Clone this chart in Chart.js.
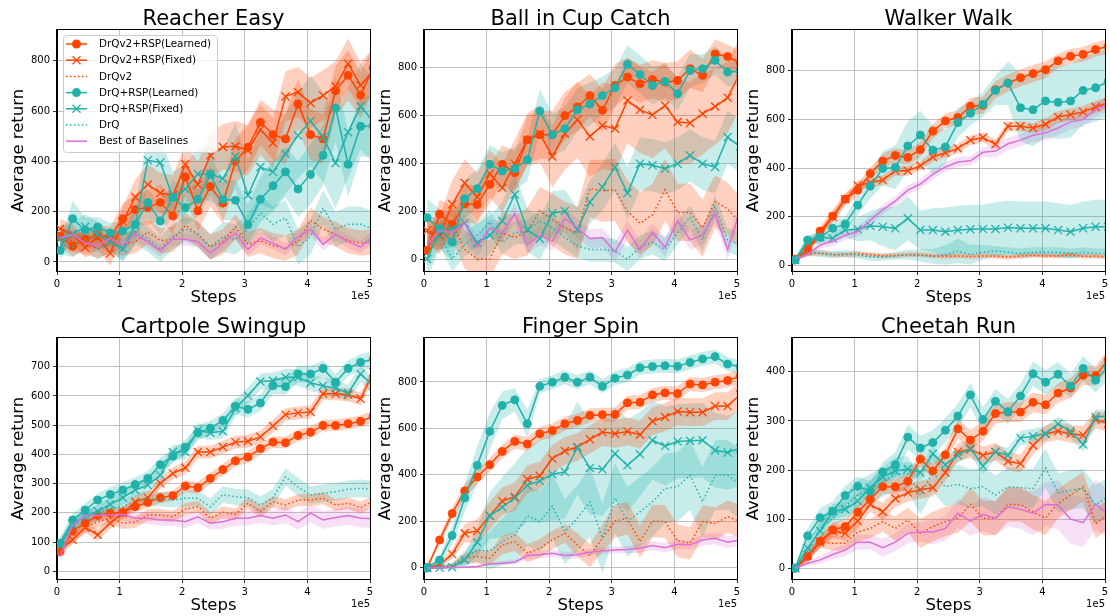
<!DOCTYPE html>
<html>
<head>
<meta charset="utf-8">
<title>RSP learning curves</title>
<script src="https://cdn.jsdelivr.net/npm/chart.js"></script>
<style>
  body { margin: 0; background: #FFF; }
  .wrap { position: relative; width: 1110px; height: 616px; overflow: hidden; background: #FFF; }
  .wrap canvas { position: absolute; }
</style>
</head>
<body>
<div class="wrap">
  <canvas id="c0" width="378" height="309" style="left:0px;top:0px"></canvas>
  <canvas id="c1" width="378" height="309" style="left:367px;top:0px"></canvas>
  <canvas id="c2" width="378" height="309" style="left:735px;top:0px"></canvas>
  <canvas id="c3" width="378" height="309" style="left:0px;top:308px"></canvas>
  <canvas id="c4" width="378" height="309" style="left:367px;top:308px"></canvas>
  <canvas id="c5" width="378" height="309" style="left:735px;top:308px"></canvas>
</div>
<script>
// x positions of the evaluation points, in units of 1e5 steps
const steps = [0.05,0.25,0.45,0.65,0.85,1.05,1.25,1.45,1.65,1.85,2.05,2.25,2.45,2.65,2.85,3.05,3.25,3.45,3.65,3.85,4.05,4.25,4.45,4.65,4.85,5.05];
const xTicks = [0,1,2,3,4,5];

// Reacher Easy
const reacher_v2L = [102,62,90,105,100,172,208,216,237,183,338,203,300,234,400,456,555,506,489,628,506,489,681,742,664,770];
const reacher_v2F = [132,110,57,100,35,160,258,308,274,265,388,308,424,457,460,444,526,473,658,675,632,662,698,788,702,760];
const reacher_v2 = [110,80,70,55,75,70,80,120,85,90,145,110,60,80,140,70,85,65,55,80,165,130,110,85,75,80];
const reacher_L = [46,172,126,139,115,123,150,236,163,256,216,249,348,248,245,148,249,303,358,290,348,424,612,388,539,540];
const reacher_F = [90,110,140,110,80,53,145,404,395,258,290,350,350,331,420,265,377,358,430,503,560,497,393,516,618,560];
const reacher_drq = [70,60,90,50,80,45,120,90,50,100,130,110,60,100,90,130,195,150,175,60,100,215,130,150,150,130];
const reacher_best = [95,110,75,65,95,65,110,80,45,90,90,80,35,75,115,50,95,75,50,100,130,70,110,80,60,100];
const reacher_v2L_sd = [40,40,40,40,40,60,60,70,70,70,80,80,80,80,90,90,90,100,100,100,100,100,100,100,90,90];
const reacher_v2F_sd = [40,40,40,50,50,60,70,80,80,80,80,90,90,90,100,100,100,100,100,100,100,100,100,100,90,90];
const reacher_v2_sd = [40,40,40,40,40,45,45,50,50,50,50,50,50,50,50,50,50,50,50,50,50,50,50,50,50,50];
const reacher_L_sd = [40,70,50,40,40,40,50,60,60,70,70,70,80,80,80,80,90,100,100,110,120,120,130,130,120,120];
const reacher_F_sd = [50,50,50,50,40,50,80,100,100,100,100,100,110,120,130,140,150,150,160,170,180,180,180,180,170,170];
const reacher_drq_sd = [40,40,40,40,40,40,50,50,50,50,50,50,50,60,60,60,70,70,70,70,70,70,70,70,70,70];
const reacher_best_sd = [25,25,25,25,25,25,25,25,25,25,25,25,25,25,25,25,25,25,25,25,25,25,25,25,25,25];

// Ball in Cup Catch
const ball_v2L = [36,188,145,231,228,312,396,361,499,520,520,600,636,684,622,726,761,733,751,740,747,796,768,858,847,820];
const ball_v2F = [120,100,229,318,259,357,298,399,499,524,429,524,583,513,559,545,663,624,603,642,573,569,608,638,675,780];
const ball_v2 = [110,95,150,40,0,0,110,90,115,200,165,130,110,295,285,290,200,150,185,290,195,195,130,240,210,150];
const ball_L = [173,127,71,252,294,396,368,378,415,619,520,545,624,648,684,716,814,772,726,743,691,789,796,831,782,785];
const ball_F = [0,120,127,150,67,99,159,270,123,85,192,201,123,238,301,385,276,399,392,378,399,433,399,385,510,470];
const ball_drq = [20,100,0,60,100,155,70,110,115,160,130,90,55,40,40,35,0,50,70,40,110,175,80,220,80,60];
const ball_best = [60,120,110,150,50,130,110,190,60,100,75,170,130,85,90,30,120,40,110,50,160,80,100,190,40,200];
const ball_v2L_sd = [40,60,80,80,80,80,80,90,100,100,100,100,100,90,90,90,80,80,80,80,80,80,70,60,50,50];
const ball_v2F_sd = [50,80,100,100,100,100,100,100,110,120,130,150,160,170,180,180,180,180,180,180,180,170,170,160,150,150];
const ball_v2_sd = [50,60,70,80,80,80,90,90,100,100,110,110,110,120,130,130,130,130,130,130,120,120,120,110,110,110];
const ball_L_sd = [80,80,80,80,80,80,80,90,90,90,90,90,90,90,80,80,80,80,80,70,70,70,60,60,60,60];
const ball_F_sd = [80,80,80,80,80,80,80,90,90,90,90,90,90,90,100,100,110,110,110,110,110,110,110,110,110,110];
const ball_drq_sd = [50,50,50,50,50,50,50,50,50,50,50,50,50,50,50,50,50,50,50,50,50,50,50,50,50,50];
const ball_best_sd = [40,40,40,40,40,40,40,40,40,40,40,40,40,40,40,40,40,40,40,40,40,40,40,40,40,40];

// Walker Walk
const walker_v2L = [26,71,142,203,273,310,378,429,452,444,476,552,594,608,654,658,722,749,771,788,804,840,859,867,887,900];
const walker_v2F = [26,61,132,200,272,329,340,351,389,389,410,446,463,481,515,526,498,572,572,565,580,610,620,631,651,668];
const walker_v2 = [30,50,52,45,45,48,45,40,42,45,45,40,38,40,38,40,38,35,40,42,40,40,45,38,40,35];
const walker_L = [23,105,116,153,171,248,326,399,403,491,536,474,487,587,625,662,719,749,648,640,676,670,676,719,730,755];
const walker_F = [23,98,116,112,146,149,164,160,153,194,146,146,139,146,149,150,150,156,153,153,153,146,139,153,160,160];
const walker_drq = [30,55,50,45,48,45,35,35,40,45,42,38,45,60,45,55,60,55,50,55,55,55,50,55,50,50];
const walker_best = [30,45,85,100,125,140,185,230,265,310,335,375,405,425,430,465,470,500,515,535,545,565,590,600,640,665];
const walker_v2L_sd = [10,15,20,25,25,25,25,30,30,30,30,30,30,30,35,35,35,35,35,35,35,30,30,30,30,30];
const walker_v2F_sd = [10,15,15,20,20,20,20,20,20,20,20,20,20,20,20,20,20,20,20,20,25,25,25,25,25,25];
const walker_v2_sd = [10,10,10,10,10,10,10,10,10,10,10,10,10,10,10,10,10,10,10,10,10,10,10,10,10,10];
const walker_L_sd = [10,20,25,30,30,40,50,70,90,100,100,100,70,60,50,50,60,90,140,150,150,150,150,140,140,140];
const walker_F_sd = [10,20,20,20,30,50,60,80,90,90,80,90,100,100,100,100,110,110,110,110,110,110,110,110,110,110];
const walker_drq_sd = [10,15,15,15,15,15,15,15,15,20,25,30,40,50,40,30,20,20,20,20,20,20,20,20,20,20];
const walker_best_sd = [5,10,15,20,20,20,20,20,20,20,20,20,20,20,20,20,25,25,25,30,30,30,30,30,30,30];

// Cartpole Swingup
const cart_v2L = [68,138,165,191,199,202,221,236,252,259,292,286,318,348,378,391,420,442,440,465,476,499,499,505,513,530];
const cart_v2F = [74,108,150,125,165,199,238,252,301,335,354,408,408,425,442,445,460,497,536,542,545,607,607,604,590,680];
const cart_v2 = [74,113,150,170,182,165,168,193,193,187,213,221,182,202,195,233,206,238,227,244,244,250,227,233,218,240];
const cart_L = [96,176,210,244,263,278,297,318,365,394,425,474,490,516,565,554,576,635,632,675,675,694,647,694,715,725];
const cart_F = [91,159,189,206,229,252,278,295,329,408,408,482,474,479,558,601,649,652,664,664,644,635,626,610,675,635];
const cart_drq = [91,153,182,199,216,221,244,250,247,244,250,250,221,263,255,252,227,252,323,289,261,267,272,281,284,280];
const cart_best = [50,159,191,191,193,195,182,182,176,176,170,187,165,170,182,182,191,182,193,170,199,176,184,191,182,180];
const cart_v2L_sd = [15,15,15,18,18,18,18,18,18,18,20,20,20,20,20,20,20,20,20,20,20,20,20,20,20,20];
const cart_v2F_sd = [15,15,18,20,20,20,20,20,20,20,22,22,22,22,22,22,22,22,22,22,22,22,22,22,22,22];
const cart_v2_sd = [15,15,18,20,20,20,20,20,20,20,20,20,20,20,20,20,20,20,20,20,20,20,20,20,20,20];
const cart_L_sd = [20,22,22,22,25,25,25,25,25,25,25,25,25,25,28,28,28,28,28,28,28,28,28,28,28,28];
const cart_F_sd = [20,22,22,22,25,25,25,25,25,25,25,25,25,25,28,28,28,28,28,28,28,28,28,28,28,28];
const cart_drq_sd = [20,25,25,25,25,25,25,25,25,25,28,28,28,28,28,28,30,30,30,30,30,30,30,30,30,30];
const cart_best_sd = [20,20,20,20,20,20,20,20,20,20,22,22,22,25,25,25,25,25,28,28,30,30,30,32,32,32];

// Finger Spin
const finger_v2L = [0,120,234,331,391,444,501,544,533,577,591,620,634,656,659,660,710,713,744,753,750,791,787,799,806,825];
const finger_v2F = [0,13,59,149,159,224,287,306,381,396,470,503,520,553,584,577,587,573,631,649,673,670,670,696,696,745];
const finger_v2 = [0,3,10,41,49,41,99,113,63,84,120,149,99,53,127,201,213,113,201,199,116,106,199,191,220,200];
const finger_L = [0,34,139,301,441,587,699,723,620,781,799,820,799,820,781,816,830,861,866,870,867,884,899,909,877,865];
const finger_F = [0,0,3,34,110,224,261,301,356,374,403,413,517,430,424,491,441,489,549,524,544,547,549,506,496,515];
const finger_drq = [0,3,13,41,77,73,113,141,224,199,266,156,213,284,127,301,199,241,284,341,349,399,284,399,399,360];
const finger_best = [0,0,1,3,6,17,20,24,53,56,63,53,56,67,73,77,79,84,96,87,101,99,120,127,110,120];
const finger_v2L_sd = [5,20,25,30,30,30,30,30,30,30,30,30,30,30,30,30,30,30,30,30,30,30,30,30,30,30];
const finger_v2F_sd = [5,15,20,40,50,60,60,60,60,60,60,60,60,60,60,60,60,60,60,60,60,60,60,60,60,60];
const finger_v2_sd = [5,5,10,20,30,30,40,40,40,40,40,40,50,50,60,70,70,70,70,70,70,70,70,70,70,70];
const finger_L_sd = [5,20,40,60,80,80,60,50,60,30,30,30,30,30,30,30,30,30,30,30,30,30,30,30,30,30];
const finger_F_sd = [5,5,10,30,60,100,130,150,160,180,200,200,200,200,200,200,200,180,170,170,160,160,160,160,160,160];
const finger_drq_sd = [5,5,10,30,50,80,100,120,130,130,140,140,140,150,150,150,150,150,150,150,150,150,150,150,150,150];
const finger_best_sd = [2,2,2,5,5,5,10,10,15,15,15,15,15,15,15,15,15,20,20,20,20,20,25,25,25,25];

// Cheetah Run
const cheetah_v2L = [0,24,55,78,85,114,141,166,166,177,222,198,231,284,261,279,315,318,318,338,333,357,367,393,392,425];
const cheetah_v2F = [0,26,53,76,71,96,130,115,142,154,160,164,195,237,242,230,237,218,213,250,274,279,274,271,303,295];
const cheetah_v2 = [0,20,53,51,51,74,81,95,81,98,71,85,95,102,130,102,102,130,130,114,102,132,149,166,91,110];
const cheetah_L = [0,66,103,116,148,167,157,196,211,267,245,256,281,310,353,303,340,319,351,396,379,395,371,407,383,410];
const cheetah_F = [0,41,76,116,120,137,164,186,198,202,195,233,211,230,244,208,237,230,265,269,274,294,279,252,308,310];
const cheetah_drq = [0,34,80,102,125,149,161,176,191,193,149,195,166,171,162,166,149,166,164,162,204,154,159,162,129,145];
const cheetah_best = [0,10,17,28,37,53,53,42,53,71,74,74,81,112,96,110,102,125,120,112,130,129,100,93,130,110];
const cheetah_v2L_sd = [3,8,12,15,15,15,15,15,15,15,15,15,15,20,20,20,20,20,20,20,20,20,20,20,20,20];
const cheetah_v2F_sd = [3,8,12,15,15,15,15,18,18,18,18,18,18,18,18,18,18,18,18,18,18,18,18,18,18,18];
const cheetah_v2_sd = [3,8,12,15,15,20,20,20,25,25,30,30,30,30,35,35,35,35,35,35,35,30,30,30,30,30];
const cheetah_L_sd = [3,15,20,20,20,20,20,20,25,25,25,25,25,25,25,25,25,25,25,25,25,25,25,25,25,25];
const cheetah_F_sd = [3,15,15,15,15,15,15,15,15,15,15,15,15,15,15,15,15,15,15,15,15,15,15,15,15,15];
const cheetah_drq_sd = [3,15,20,20,25,30,30,30,35,35,40,40,40,40,40,40,40,40,40,40,40,40,40,40,40,40];
const cheetah_best_sd = [2,5,8,10,12,15,15,18,18,20,20,25,25,30,30,35,35,40,40,45,45,50,50,50,50,50];

const ORANGE = '#FF4500', TEAL = '#20B2AA', ORCHID = '#DA70D6';
const FONT = '"DejaVu Sans", sans-serif';

const seriesStyles = [
  { label: 'DrQv2+RSP(Learned)', color: ORANGE, band: 'rgba(255,69,0,0.25)', marker: 'circle', dash: [] },
  { label: 'DrQv2+RSP(Fixed)', color: ORANGE, band: 'rgba(255,69,0,0.25)', marker: 'crossRot', dash: [] },
  { label: 'DrQv2', color: ORANGE, band: 'rgba(255,69,0,0.25)', marker: null, dash: [1.5, 2.5] },
  { label: 'DrQ+RSP(Learned)', color: TEAL, band: 'rgba(32,178,170,0.25)', marker: 'circle', dash: [] },
  { label: 'DrQ+RSP(Fixed)', color: TEAL, band: 'rgba(32,178,170,0.25)', marker: 'crossRot', dash: [] },
  { label: 'DrQ', color: TEAL, band: 'rgba(32,178,170,0.25)', marker: null, dash: [1.5, 2.5] },
  { label: 'Best of Baselines', color: ORCHID, band: 'rgba(218,112,214,0.22)', marker: null, dash: [] }
];

const panels = [
  { id: 'c0', title: 'Reacher Easy', yMin: -36, yMax: 922, yTicks: [0,200,400,600,800], legend: true,
    vals: [reacher_v2L, reacher_v2F, reacher_v2, reacher_L, reacher_F, reacher_drq, reacher_best],
    sds: [reacher_v2L_sd, reacher_v2F_sd, reacher_v2_sd, reacher_L_sd, reacher_F_sd, reacher_drq_sd, reacher_best_sd] },
  { id: 'c1', title: 'Ball in Cup Catch', yMin: -50, yMax: 958, yTicks: [0,200,400,600,800],
    vals: [ball_v2L, ball_v2F, ball_v2, ball_L, ball_F, ball_drq, ball_best],
    sds: [ball_v2L_sd, ball_v2F_sd, ball_v2_sd, ball_L_sd, ball_F_sd, ball_drq_sd, ball_best_sd] },
  { id: 'c2', title: 'Walker Walk', yMin: -22, yMax: 967, yTicks: [0,200,400,600,800],
    vals: [walker_v2L, walker_v2F, walker_v2, walker_L, walker_F, walker_drq, walker_best],
    sds: [walker_v2L_sd, walker_v2F_sd, walker_v2_sd, walker_L_sd, walker_F_sd, walker_drq_sd, walker_best_sd] },
  { id: 'c3', title: 'Cartpole Swingup', yMin: -26, yMax: 798, yTicks: [0,100,200,300,400,500,600,700],
    vals: [cart_v2L, cart_v2F, cart_v2, cart_L, cart_F, cart_drq, cart_best],
    sds: [cart_v2L_sd, cart_v2F_sd, cart_v2_sd, cart_L_sd, cart_F_sd, cart_drq_sd, cart_best_sd] },
  { id: 'c4', title: 'Finger Spin', yMin: -48, yMax: 989, yTicks: [0,200,400,600,800],
    vals: [finger_v2L, finger_v2F, finger_v2, finger_L, finger_F, finger_drq, finger_best],
    sds: [finger_v2L_sd, finger_v2F_sd, finger_v2_sd, finger_L_sd, finger_F_sd, finger_drq_sd, finger_best_sd] },
  { id: 'c5', title: 'Cheetah Run', yMin: -22, yMax: 469, yTicks: [0,100,200,300,400],
    vals: [cheetah_v2L, cheetah_v2F, cheetah_v2, cheetah_L, cheetah_F, cheetah_drq, cheetah_best],
    sds: [cheetah_v2L_sd, cheetah_v2F_sd, cheetah_v2_sd, cheetah_L_sd, cheetah_F_sd, cheetah_drq_sd, cheetah_best_sd] }
];

function drawMarker(ctx, marker, x, y, color) {
  ctx.fillStyle = color;
  ctx.strokeStyle = color;
  if (marker === 'circle') {
    ctx.beginPath();
    ctx.arc(x, y, 4.5, 0, Math.PI * 2);
    ctx.fill();
  } else if (marker === 'crossRot') {
    ctx.lineWidth = 1.3;
    ctx.setLineDash([]);
    ctx.beginPath();
    ctx.moveTo(x - 4, y - 4); ctx.lineTo(x + 4, y + 4);
    ctx.moveTo(x - 4, y + 4); ctx.lineTo(x + 4, y - 4);
    ctx.stroke();
  }
}

// titles, axis labels, frame, offset text and the legend
const decor = {
  id: 'decor',
  afterDraw(chart, args, opts) {
    const { ctx, chartArea: a } = chart;
    ctx.save();
    ctx.strokeStyle = '#000';
    ctx.lineWidth = 1;
    ctx.strokeRect(Math.round(a.left) - 0.5, Math.round(a.top) - 0.5, Math.round(a.right - a.left) + 1, Math.round(a.bottom - a.top) + 1);

    ctx.fillStyle = '#000';
    ctx.textAlign = 'center';
    ctx.textBaseline = 'alphabetic';
    ctx.font = '21px ' + FONT;
    ctx.fillText(opts.title, (a.left + a.right) / 2, a.top - 5);
    ctx.font = '16.5px ' + FONT;
    ctx.fillText('Steps', (a.left + a.right) / 2, a.bottom + 31);
    ctx.font = '10px ' + FONT;
    ctx.textAlign = 'right';
    ctx.fillText('1e5', a.right, a.bottom + 28);

    ctx.save();
    ctx.translate(19, (a.top + a.bottom) / 2);
    ctx.rotate(-Math.PI / 2);
    ctx.textAlign = 'center';
    ctx.textBaseline = 'middle';
    ctx.font = '16.5px ' + FONT;
    ctx.fillText('Average return', 0, 0);
    ctx.restore();

    if (opts.legend) {
      const x0 = a.left + 6, y0 = a.top + 5, w = 154, h = 117;
      ctx.beginPath();
      ctx.roundRect(x0 + 0.5, y0 + 0.5, w, h, 3);
      ctx.fillStyle = 'rgba(255,255,255,0.8)';
      ctx.fill();
      ctx.strokeStyle = '#cccccc';
      ctx.lineWidth = 1;
      ctx.stroke();
      ctx.font = '10.4px ' + FONT;
      ctx.textAlign = 'left';
      ctx.textBaseline = 'middle';
      seriesStyles.forEach((s, i) => {
        const cy = y0 + 9 + i * 16.2;
        ctx.strokeStyle = s.color;
        ctx.lineWidth = 1.5;
        ctx.setLineDash(s.dash);
        ctx.beginPath();
        ctx.moveTo(x0 + 3, cy);
        ctx.lineTo(x0 + 24, cy);
        ctx.stroke();
        ctx.setLineDash([]);
        if (s.marker) drawMarker(ctx, s.marker, x0 + 13.5, cy, s.color);
        ctx.fillStyle = '#000';
        ctx.fillText(s.label, x0 + 36, cy + 0.5);
      });
    }
    ctx.restore();
  }
};

panels.forEach(p => {
  const datasets = [];
  // shaded bands first (drawn underneath)
  p.vals.forEach((vals, i) => {
    const sd = p.sds[i];
    const st = seriesStyles[i];
    datasets.push({
      data: steps.map((x, j) => ({ x: x, y: vals[j] + sd[j] })),
      borderWidth: 0, pointRadius: 0, fill: false, order: 100
    });
    datasets.push({
      data: steps.map((x, j) => ({ x: x, y: vals[j] - sd[j] })),
      borderWidth: 0, pointRadius: 0, fill: '-1', backgroundColor: st.band, order: 100
    });
  });
  // mean curves, later series on top
  p.vals.forEach((vals, i) => {
    const st = seriesStyles[i];
    datasets.push({
      label: st.label,
      data: steps.map((x, j) => ({ x: x, y: vals[j] })),
      borderColor: st.color,
      backgroundColor: st.color,
      borderWidth: 1.5,
      borderDash: st.dash,
      pointStyle: st.marker || 'circle',
      pointRadius: st.marker === 'circle' ? 4 : (st.marker === 'crossRot' ? 5.7 : 0),
      pointBorderWidth: st.marker === 'crossRot' ? 1.3 : 1,
      pointBackgroundColor: st.color,
      pointBorderColor: st.color,
      fill: false,
      tension: 0,
      order: 10 - i
    });
  });

  new Chart(document.getElementById(p.id), {
    type: 'line',
    data: { datasets: datasets },
    plugins: [decor],
    options: {
      responsive: false,
      animation: false,
      events: [],
      layout: { padding: { top: 30, right: 8, left: 0, bottom: 0 } },
      plugins: {
        legend: { display: false },
        tooltip: { enabled: false },
        decor: { title: p.title, legend: !!p.legend }
      },
      scales: {
        x: {
          type: 'linear', min: 0, max: 5,
          afterBuildTicks: s => { s.ticks = xTicks.map(v => ({ value: v })); },
          afterFit: s => { s.height = 38; },
          grid: { color: '#b0b0b0', lineWidth: 0.8, tickColor: '#000', tickLength: 4 },
          border: { display: true, color: '#000', width: 1 },
          ticks: { color: '#000', font: { family: FONT, size: 10 }, padding: 3, maxRotation: 0, autoSkip: false }
        },
        y: {
          type: 'linear', min: p.yMin, max: p.yMax,
          afterBuildTicks: s => { s.ticks = p.yTicks.map(v => ({ value: v })); },
          afterFit: s => { s.width = 57; },
          grid: { color: '#b0b0b0', lineWidth: 0.8, tickColor: '#000', tickLength: 4 },
          border: { display: true, color: '#000', width: 1 },
          ticks: { color: '#000', font: { family: FONT, size: 10 }, padding: 3, autoSkip: false }
        }
      }
    }
  });
});
</script>
</body>
</html>
